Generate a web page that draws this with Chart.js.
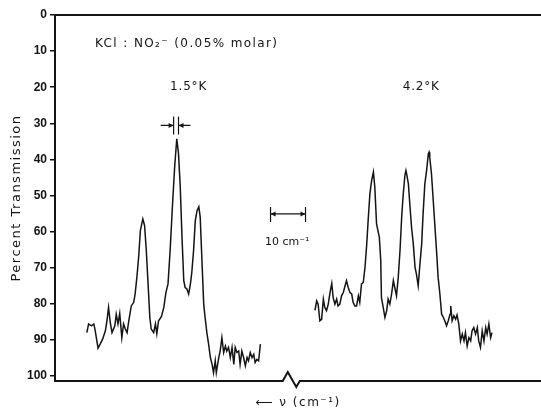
<!DOCTYPE html>
<html>
<head>
<meta charset="utf-8">
<script src="https://cdn.jsdelivr.net/npm/chart.js@4/dist/chart.umd.min.js"></script>
<style>
  html, body { margin: 0; padding: 0; background: #fff; }
  #wrap { width: 541px; height: 410px; }
</style>
</head>
<body>
<div id="wrap"><canvas id="c" width="541" height="410"></canvas></div>
<script>
// ---- Data (x: relative wavenumber position, cm^-1 ; y: percent transmission) ----
const yTicks = [0, 10, 20, 30, 40, 50, 60, 70, 80, 90, 100];

// 1.5 K trace
const lowTX = [9.1, 9.6, 10.4, 11.1, 11.5, 12.3, 12.9, 13.6, 14.4, 14.9, 15.3, 15.8, 16.3, 17.1, 17.5, 18.0, 18.5, 19.1, 19.6, 20.1,
  20.6, 21.1, 21.8, 22.5, 22.9, 23.4, 23.9, 24.4, 25.1, 25.6, 26.1, 26.6, 27.1, 27.5, 28.2, 28.7, 29.1, 29.6, 30.4, 31.1,
  31.7, 32.3, 32.9, 33.6, 34.2, 34.8, 35.3, 35.8, 36.3, 36.8, 37.2, 37.7, 38.2, 38.7, 39.1, 39.6, 40.1, 40.6, 41.1, 41.5,
  42.0, 42.5, 42.9, 43.4, 43.9, 44.4, 44.9, 45.3, 45.8, 46.1, 46.8, 47.2, 47.7, 48.2, 48.7, 49.1, 49.6, 50.1, 50.6, 51.1,
  51.5, 52.0, 52.5, 52.9, 53.4, 53.9, 54.4, 54.9, 55.3, 55.8, 56.3, 56.8, 57.2, 57.7, 58.2, 58.7];
const lowTY = [88.0, 85.6, 86.1, 85.6, 87.5, 92.3, 91.2, 89.8, 87.5, 84.3, 81.0, 85.2, 88.0, 86.1, 82.9, 85.6, 82.7, 89.4, 85.6, 87.0,
  88.0, 84.7, 80.6, 79.6, 77.3, 72.7, 67.1, 59.7, 56.5, 58.3, 65.3, 74.5, 83.8, 87.0, 88.0, 85.6, 88.3, 84.7, 83.6, 81.0,
  76.9, 74.5, 65.3, 52.3, 42.1, 34.3, 38.4, 47.7, 61.6, 73.6, 75.5, 75.9, 77.3, 74.5, 71.3, 65.3, 56.9, 54.2, 53.1, 56.0,
  68.1, 80.1, 83.8, 88.0, 91.2, 94.9, 96.8, 99.1, 95.8, 99.1, 94.9, 93.1, 89.4, 93.5, 91.7, 93.1, 92.1, 94.9, 92.1, 96.8,
  92.1, 93.5, 93.1, 96.8, 93.1, 94.9, 97.2, 94.9, 95.8, 93.5, 94.9, 94.0, 96.3, 95.4, 95.8, 91.2];

// 4.2 K trace
const highTX = [74.3, 74.8, 75.2, 75.7, 76.2, 76.7, 77.1, 77.6, 78.1, 78.6, 79.1, 79.5, 80.0, 80.5, 80.9, 81.4, 81.9, 82.4, 82.9, 83.3,
  83.8, 84.3, 84.8, 85.2, 85.7, 86.2, 86.7, 87.1, 87.6, 88.1, 88.6, 89.1, 89.5, 90.0, 90.5, 91.0, 91.4, 91.9, 92.7, 93.1,
  93.3, 93.8, 94.3, 94.8, 95.2, 95.7, 96.2, 96.7, 97.1, 97.6, 98.1, 98.6, 99.1, 99.5, 100.0, 100.3, 100.5, 101.0, 101.4, 101.9,
  102.4, 102.9, 103.3, 103.8, 104.3, 104.8, 105.2, 105.7, 106.2, 106.7, 106.9, 107.1, 107.6, 108.1, 108.6, 109.1, 109.5, 110.0, 110.5, 111.0,
  111.4, 111.9, 112.4, 112.9, 113.1, 113.5, 114.0, 114.5, 114.9, 115.4, 115.9, 116.4, 116.9, 117.3, 117.8, 118.3, 118.8, 119.2, 119.7, 120.2,
  120.7, 121.1, 121.6, 122.1, 122.6, 123.1, 123.5, 124.0, 124.5, 124.9];
const highTY = [81.8, 79.2, 80.1, 84.7, 84.3, 78.7, 81.0, 81.9, 80.1, 76.9, 74.4, 78.3, 80.1, 78.7, 80.6, 80.1, 77.8, 76.9, 75.0, 73.6,
  75.5, 76.9, 77.3, 79.6, 80.6, 80.6, 77.8, 79.6, 74.5, 74.1, 69.9, 63.4, 56.9, 49.5, 45.8, 43.5, 47.7, 57.9, 61.6, 68.1,
  78.3, 81.0, 83.8, 81.9, 78.7, 80.1, 77.3, 73.6, 75.5, 77.8, 72.7, 65.3, 55.6, 50.0, 44.4, 43.1, 44.0, 46.8, 52.3, 58.8,
  63.4, 69.9, 71.8, 75.0, 69.0, 63.4, 55.1, 46.8, 43.1, 38.4, 38.0, 39.4, 44.0, 51.4, 58.8, 66.2, 72.7, 77.3, 82.9, 83.8,
  84.7, 86.1, 84.7, 82.9, 80.6, 84.7, 83.3, 84.3, 83.1, 85.6, 90.3, 88.4, 90.3, 88.0, 91.7, 89.4, 90.3, 87.5, 86.6, 88.4,
  86.6, 90.3, 92.1, 87.5, 90.3, 86.6, 88.4, 85.6, 89.4, 88.0];

const xMax = 138.9;
const yMax = 101.4;

const toPts = (xs, ys) => xs.map((x, i) => ({ x: x, y: ys[i] }));

const INK = '#141414';
const FONT = '"Liberation Sans", Arial, sans-serif';
const WIDE = '"DejaVu Sans", sans-serif';

function arrowHead(ctx, x, y, dir) {
  ctx.beginPath();
  ctx.moveTo(x, y);
  ctx.lineTo(x - dir * 5, y - 2.5);
  ctx.lineTo(x - dir * 5, y + 2.5);
  ctx.closePath();
  ctx.fill();
}

// letter spacing for the axis titles (drawn before datasets), none for tick labels (drawn after)
const spacing = {
  id: 'spacing',
  beforeDraw(chart) { chart.ctx.letterSpacing = '1.5px'; },
  beforeDatasetsDraw(chart) { chart.ctx.letterSpacing = '0px'; }
};

const decor = {
  id: 'decor',
  afterDatasetsDraw(chart) {
    const ctx = chart.ctx;
    const xs = chart.scales.x, ys = chart.scales.y;
    const ca = chart.chartArea;
    const px = v => xs.getPixelForValue(v);
    const py = v => ys.getPixelForValue(v);
    ctx.save();
    ctx.strokeStyle = INK;
    ctx.fillStyle = INK;
    ctx.lineCap = 'butt';

    // top frame line
    ctx.lineWidth = 2;
    ctx.beginPath();
    ctx.moveTo(ca.left - 1, ca.top);
    ctx.lineTo(ca.right, ca.top);
    ctx.stroke();

    // bottom line with axis break
    const b0 = px(65.1);
    const yb = ca.bottom;
    ctx.beginPath();
    ctx.moveTo(ca.left - 1, yb);
    ctx.lineTo(b0, yb);
    ctx.lineTo(b0 + 5, yb - 9);
    ctx.lineTo(b0 + 13.5, yb + 6);
    ctx.lineTo(b0 + 17, yb);
    ctx.lineTo(ca.right, yb);
    ctx.lineJoin = 'miter';
    ctx.stroke();

    // texts
    ctx.textBaseline = 'middle';
    ctx.textAlign = 'left';
    ctx.font = '12px ' + WIDE;
    ctx.letterSpacing = '1.4px';
    ctx.fillText('KCl : NO\u2082\u207B (0.05% molar)', px(11.4), py(8.1));
    ctx.letterSpacing = '0.8px';
    ctx.fillText('1.5\u00B0K', px(32.9), py(20));
    ctx.fillText('4.2\u00B0K', px(99.4), py(20));
    ctx.font = '11px ' + WIDE;
    ctx.letterSpacing = '0px';
    ctx.fillText('10 cm\u207B\u00B9', px(60), py(62.8));

    // 10 cm-1 scale bar
    ctx.lineWidth = 1.2;
    const sx0 = px(61.6), sx1 = px(71.6), sy = py(55.1);
    ctx.beginPath();
    ctx.moveTo(sx0, sy - 7); ctx.lineTo(sx0, sy + 8);
    ctx.moveTo(sx1, sy - 7); ctx.lineTo(sx1, sy + 8);
    ctx.moveTo(sx0, sy); ctx.lineTo(sx1, sy);
    ctx.stroke();
    arrowHead(ctx, sx1, sy, 1);
    arrowHead(ctx, sx0, sy, -1);

    // slit width marks near the 1.5 K peak
    const m0 = px(33.9), m1 = px(35.3), my = py(30.6);
    ctx.beginPath();
    ctx.moveTo(m0, my - 9); ctx.lineTo(m0, my + 9);
    ctx.moveTo(m1, my - 9); ctx.lineTo(m1, my + 9);
    ctx.moveTo(px(30.2), my); ctx.lineTo(m0, my);
    ctx.moveTo(px(38.7), my); ctx.lineTo(m1, my);
    ctx.stroke();
    arrowHead(ctx, m0, my, 1);
    arrowHead(ctx, m1, my, -1);

    ctx.restore();
  }
};

const lineStyle = {
  borderColor: INK,
  borderWidth: 1.5,
  pointRadius: 0,
  tension: 0,
  fill: false
};

new Chart(document.getElementById('c'), {
  type: 'line',
  data: {
    datasets: [
      Object.assign({ label: '1.5 K', data: toPts(lowTX, lowTY) }, lineStyle),
      Object.assign({ label: '4.2 K', data: toPts(highTX, highTY) }, lineStyle)
    ]
  },
  options: {
    responsive: false,
    animation: false,
    devicePixelRatio: 1,
    layout: { padding: { top: 15, left: 0, right: 0, bottom: 0 } },
    plugins: { legend: { display: false }, tooltip: { enabled: false }, title: { display: false } },
    scales: {
      x: {
        type: 'linear',
        min: 0,
        max: xMax,
        ticks: { display: false, z: 1 },
        grid: { display: false },
        border: { display: false },
        title: {
          display: true,
          text: '\u27F5 \u03BD (cm\u207B\u00B9)',
          color: INK,
          font: { family: WIDE, size: 12 },
          padding: { top: 0, bottom: 0 }
        },
        afterFit: s => { s.height = 29; }
      },
      y: {
        type: 'linear',
        reverse: true,
        min: 0,
        max: yMax,
        afterBuildTicks: s => { s.ticks = yTicks.map(v => ({ value: v })); },
        ticks: {
          z: 1,
          color: INK,
          padding: 3,
          font: { family: FONT, size: 12, weight: 'bold' }
        },
        grid: {
          display: true,
          drawOnChartArea: false,
          drawTicks: true,
          tickLength: 5,
          color: INK,
          lineWidth: 1.5
        },
        border: { display: true, color: INK, width: 2 },
        title: {
          display: true,
          text: 'Percent Transmission',
          color: INK,
          font: { family: WIDE, size: 13 },
          padding: { top: 9, bottom: 0 }
        },
        afterFit: s => { s.width = 55; }
      }
    }
  },
  plugins: [spacing, decor]
});
</script>
</body>
</html>
